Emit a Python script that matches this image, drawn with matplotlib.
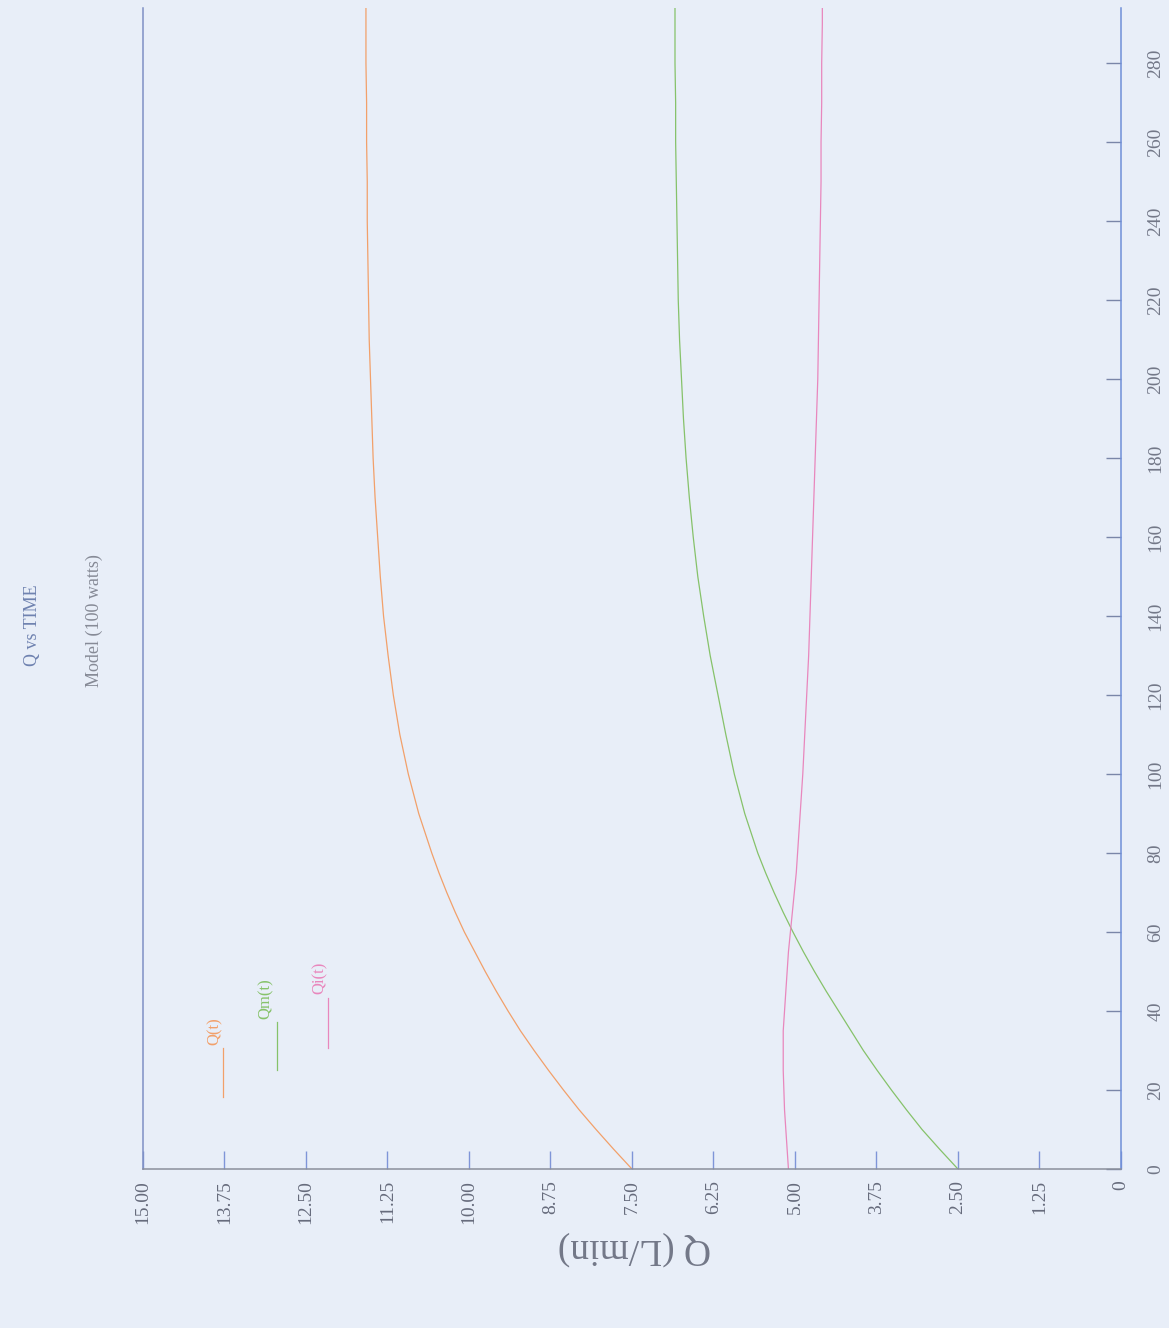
# ==============================
# Q vs TIME  (Model, 100 watts)
# page is scanned sideways, so the chart is drawn rotated
# ==============================

import matplotlib
matplotlib.use("Agg")
import matplotlib.pyplot as plt
from matplotlib.lines import Line2D

plt.rcParams['font.family'] = ['Liberation Serif', 'DejaVu Serif']

# ------------------------------
# Data
# ------------------------------
time_min = [0, 5, 10, 15, 20, 25, 30, 35, 40, 45, 50, 55, 60, 65, 70, 75,
            80, 85, 90, 95, 100, 110, 120, 130, 140, 150, 160, 170, 180,
            190, 200, 210, 220, 230, 240, 250, 260, 270, 280, 290, 294]

q_total = [7.50, 7.78, 8.05, 8.31, 8.55, 8.78, 9.00, 9.21, 9.40, 9.58,
           9.75, 9.91, 10.07, 10.21, 10.34, 10.46, 10.57, 10.67, 10.77,
           10.85, 10.93, 11.06, 11.16, 11.24, 11.31, 11.36, 11.40, 11.44,
           11.47, 11.49, 11.51, 11.53, 11.54, 11.55, 11.56, 11.56, 11.57,
           11.57, 11.58, 11.58, 11.58]

q_m = [2.50, 2.78, 3.05, 3.29, 3.52, 3.74, 3.95, 4.14, 4.33, 4.52, 4.70,
       4.87, 5.03, 5.18, 5.32, 5.45, 5.57, 5.67, 5.77, 5.85, 5.93, 6.06,
       6.18, 6.30, 6.40, 6.49, 6.56, 6.62, 6.67, 6.71, 6.74, 6.77, 6.79,
       6.80, 6.81, 6.82, 6.83, 6.83, 6.84, 6.84, 6.84]

q_i = [5.10, 5.12, 5.14, 5.16, 5.17, 5.18, 5.18, 5.18, 5.16, 5.14, 5.12,
       5.10, 5.07, 5.04, 5.01, 4.98, 4.96, 4.94, 4.92, 4.90, 4.88, 4.85,
       4.82, 4.79, 4.77, 4.75, 4.73, 4.71, 4.69, 4.67, 4.65, 4.64, 4.63,
       4.62, 4.61, 4.60, 4.60, 4.59, 4.59, 4.58, 4.58]

q_ticks = [15.00, 13.75, 12.50, 11.25, 10.00, 8.75, 7.50, 6.25, 5.00,
           3.75, 2.50, 1.25, 0]
q_tick_labels = ["15.00", "13.75", "12.50", "11.25", "10.00", "8.75",
                 "7.50", "6.25", "5.00", "3.75", "2.50", "1.25", "0"]
t_ticks = list(range(0, 281, 20))

series_names = ["Q(t)", "Qm(t)", "Qi(t)"]
series_colors = ["#f2a06a", "#86c26a", "#e887bd"]

# ------------------------------
# Figure
# ------------------------------
paper = "#e8eef8"
fig = plt.figure(figsize=(11.69, 13.28), dpi=100, facecolor=paper)
ax = fig.add_axes([0.1223, 0.1197, 0.8366, 0.8743])
ax.set_facecolor(paper)

# Q on the horizontal axis (15 at left), time on the vertical axis
for vals, col in zip([q_total, q_m, q_i], series_colors):
    ax.plot(vals, time_min, color=col, lw=0.9)

ax.set_xlim(15, 0)
ax.set_ylim(0, 294)

ax.set_xticks(q_ticks)
ax.set_xticklabels(q_tick_labels, rotation=90)
ax.set_yticks(t_ticks)
ax.set_yticklabels([str(t) for t in t_ticks], rotation=90, va='center')
ax.yaxis.tick_right()

ax.tick_params(axis='x', direction='in', length=13, width=1.0,
               color="#7f95d8", pad=8, labelsize=14, labelcolor="#666b7c")
ax.tick_params(axis='y', direction='in', length=11, width=1.0,
               color="#7a86a8", pad=19, labelsize=14, labelcolor="#737888")

ax.spines['top'].set_visible(False)
ax.spines['left'].set_color("#7f90c4")
ax.spines['bottom'].set_color("#8b909c")
ax.spines['right'].set_color("#6f8fd8")
for s in ['left', 'bottom', 'right']:
    ax.spines[s].set_linewidth(1.1)

# axis label (upside down on the scan)
fig.text(0.543, 0.060, "Q (L/min)", rotation=180, ha='center', va='center',
         fontsize=27, color="#737888")

# titles
fig.text(0.028, 0.529, "Q vs TIME", rotation=90, ha='center', va='center',
         fontsize=13, color="#6f82b0")
fig.text(0.081, 0.533, "Model (100 watts)", rotation=90, ha='center',
         va='center', fontsize=13, color="#868a96")

# legend drawn the way the original has it: short line + rotated name
legend_pos = [(0.0818, 0.062, 0.104, 0.0736, 0.119),
              (0.137, 0.085, 0.127, 0.1258, 0.147),
              (0.189, 0.104, 0.147, 0.181, 0.165)]
for name, col, (lx, y0, y1, tx, ty) in zip(series_names, series_colors,
                                           legend_pos):
    ax.add_line(Line2D([lx, lx], [y0, y1], transform=ax.transAxes,
                       color=col, lw=0.9))
    ax.text(tx, ty, name, transform=ax.transAxes, rotation=90,
            ha='center', va='center', fontsize=12, color=col)

fig.savefig("out.png", dpi=100, facecolor=paper)
